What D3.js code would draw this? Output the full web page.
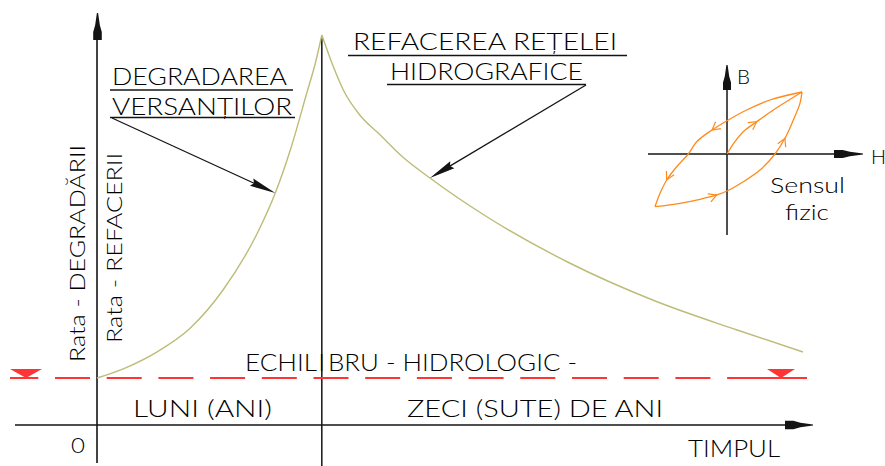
<!DOCTYPE html>
<html><head><meta charset="utf-8">
<script src="https://cdn.jsdelivr.net/npm/d3@7"></script>
<style>
html,body{margin:0;padding:0;background:#fff;}
svg{display:block;}
text{font-family:"Lato","Liberation Sans",Arial,sans-serif;font-weight:300;fill:#000;}
</style></head><body>
<svg id="c" width="885" height="466"></svg>
<script>
// ---------- data ----------
const riseTime = [0, 4, 8.4, 13, 17.6, 22.4, 24.9, 27, 29.3, 30.5, 31.4];
const riseRate = [11.75, 14.3, 18.3, 24.2, 33.75, 48, 58, 68.75, 83, 90.5, 97.5];
const fallTime = [31.4, 33.0, 34.4, 36.7, 39.5, 42.7, 46.5, 54.5, 66, 77.6, 89.4, 98.6];
const fallRate = [97.5, 89.6, 83.75, 77.5, 72.6, 67, 61.75, 52, 40.5, 31.25, 23.75, 18.25];
const equilibriumRate = 11.75;
const peakTime = 31.4;

// hysteresis inset (H, B)
const upperH = [1.0, 0.573, 0.262, 0, -0.2, -0.404, -0.516, -0.671, -0.804, -0.893, -0.96];
const upperB = [1.0, 0.871, 0.710, 0.537, 0.387, 0.198, 0, -0.205, -0.419, -0.634, -0.85];
const lowerH = [-0.96, -0.627, -0.36, -0.137, 0, 0.217, 0.44, 0.64, 0.773, 0.884, 0.973, 1.0];
const lowerB = [-0.85, -0.795, -0.731, -0.661, -0.597, -0.447, -0.258, 0, 0.253, 0.548, 0.817, 1.0];
const initH = [0, 0.089, 0.217, 0.396, 0.618, 1.0];
const initB = [0, 0.172, 0.360, 0.521, 0.710, 1.0];

const yLabels = ["Rata - DEGRADĂRII", "Rata - REFACERII"];
const degradLabel = ["DEGRADAREA", "VERSANȚILOR"];
const refacLabel = ["REFACEREA REȚELEI", "HIDROGRAFICE"];
const periodLabels = ["LUNI (ANI)", "ZECI (SUTE) DE ANI"];
const equilLabel = ["ECHIL", "I", "BRU - HIDROLOGIC -"];
const originLabel = "0";
const xLabel = "TIMPUL";
const insetLabels = ["B", "H", "Sensul", "fizic"];

// ---------- setup ----------
const svg = d3.select("#c");
const x = d3.scaleLinear().domain([0, 100]).range([97, 813]);
const y = d3.scaleLinear().domain([0, 100]).range([425, 25]);
const ink = "#141414";
const curveCol = "#bdbc78";
const red = "#ff3434";
const orange = "#ff8a1c";

function txt(s, px, py, size, len, extra, adj) {
  const t = svg.append("text").attr("x", px).attr("y", py).attr("font-size", size).text(s);
  if (len) t.attr("textLength", len).attr("lengthAdjust", adj || "spacingAndGlyphs");
  if (extra) t.attr("transform", extra);
  return t;
}
function poly(pts, fill) {
  svg.append("path").attr("d", "M" + pts.map(p => p.join(",")).join("L") + "Z").attr("fill", fill);
}
function axisArrow(tx, ty, dx, dy, len, hw) {
  const nx = -dy, ny = dx;
  const p = (a, b) => [tx - dx * a + nx * b, ty - dy * a + ny * b];
  poly([p(0, 0.6), p(len * 0.45, hw * 0.55), p(len * 0.7, hw), p(len, hw), p(len, -hw), p(len * 0.7, -hw), p(len * 0.45, -hw * 0.55), p(0, -0.6)], ink);
}
function leader(x1, y1, x2, y2) {
  const L = Math.hypot(x2 - x1, y2 - y1), dx = (x2 - x1) / L, dy = (y2 - y1) / L;
  svg.append("line").attr("x1", x1).attr("y1", y1).attr("x2", x2 - dx * 10).attr("y2", y2 - dy * 10)
    .attr("stroke", ink).attr("stroke-width", 1.3);
  const nx = -dy, ny = dx, len = 26, hw = 4;
  const p = (a, b) => [x2 - dx * a + nx * b, y2 - dy * a + ny * b];
  poly([p(0, 0), p(len, hw), p(len * 0.9, 0), p(len, -hw)], ink);
}

// ---------- axes ----------
svg.append("line").attr("x1", x(0)).attr("x2", x(0)).attr("y1", y(103) + 6).attr("y2", 463)
  .attr("stroke", ink).attr("stroke-width", 1.6);
axisArrow(x(0) + 0.5, y(103), 0, -1, 27, 4.3);
svg.append("line").attr("x1", 15).attr("x2", x(100) - 6).attr("y1", y(0)).attr("y2", y(0))
  .attr("stroke", ink).attr("stroke-width", 1.6);
axisArrow(x(100), y(0), 1, 0, 28, 4.3);
svg.append("line").attr("x1", x(peakTime)).attr("x2", x(peakTime)).attr("y1", y(96.8)).attr("y2", 466)
  .attr("stroke", ink).attr("stroke-width", 1.5);

// equilibrium line
const ey = y(equilibriumRate);
svg.append("line").attr("x1", 3.3).attr("x2", 807).attr("y1", ey).attr("y2", ey)
  .attr("stroke", red).attr("stroke-width", 2).attr("stroke-dasharray", "35 16.7");
svg.append("rect").attr("x", 0).attr("y", ey - 3).attr("width", 10).attr("height", 6).attr("fill", "#fff");
poly([[10, ey - 9], [42, ey - 9], [26, ey]], red);
poly([[767, ey - 9], [795, ey - 9], [781, ey]], red);
svg.append("line").attr("x1", 762).attr("x2", 807).attr("y1", ey).attr("y2", ey).attr("stroke", red).attr("stroke-width", 2);

// ---------- curve ----------
const line = d3.line().x(d => x(d[0])).y(d => y(d[1])).curve(d3.curveMonotoneX);
const rise = riseTime.map((t, i) => [t, riseRate[i]]);
const fall = fallTime.map((t, i) => [t, fallRate[i]]);
svg.append("path").attr("d", line(rise)).attr("fill", "none").attr("stroke", curveCol).attr("stroke-width", 1.4);
svg.append("path").attr("d", line(fall)).attr("fill", "none").attr("stroke", curveCol).attr("stroke-width", 1.4);

// ---------- annotations ----------
txt(degradLabel[0], 112, 85, 23.5, 175);
txt(degradLabel[1], 112, 115, 23.5, 180);
svg.append("line").attr("x1", 110).attr("x2", 293).attr("y1", 90).attr("y2", 90).attr("stroke", ink).attr("stroke-width", 1.4);
svg.append("line").attr("x1", 110).attr("x2", 295).attr("y1", 117.5).attr("y2", 117.5).attr("stroke", ink).attr("stroke-width", 1.4);
leader(112, 118, x(rise[6][0]), y(rise[6][1]));

txt(refacLabel[0], 353, 50, 23.5, 264);
txt(refacLabel[1], 390, 80, 23.5, 193);
svg.append("line").attr("x1", 348).attr("x2", 627).attr("y1", 55.5).attr("y2", 55.5).attr("stroke", ink).attr("stroke-width", 1.4);
svg.append("line").attr("x1", 387).attr("x2", 586).attr("y1", 84.5).attr("y2", 84.5).attr("stroke", ink).attr("stroke-width", 1.4);
leader(586, 85, x(fall[6][0]), y(fall[6][1]));

// axis labels
txt(yLabels[0], 85, 362, 21.5, 217, "rotate(-90,85,362)");
txt(yLabels[1], 122, 343, 21.5, 190, "rotate(-90,122,343)");
txt(originLabel, 71, 453, 21.5, 14);
txt(xLabel, 688, 457, 23.5, 92);
txt(periodLabels[0], 133, 417, 23.5, 139);
txt(periodLabels[1], 407, 417, 23.5, 256);
txt(equilLabel[0], 245, 371, 23.5, 72);
txt(equilLabel[1], x(peakTime) - 3.2, 371, 23.5);
txt(equilLabel[2], 328, 371, 23.5, 249);

// ---------- inset ----------
const hx = d3.scaleLinear().domain([0, 1]).range([727, 802]);
const by = d3.scaleLinear().domain([0, 1]).range([154, 92]);
svg.append("line").attr("x1", hx(0)).attr("x2", hx(0)).attr("y1", 72).attr("y2", 235).attr("stroke", ink).attr("stroke-width", 1.5);
axisArrow(hx(0), 65, 0, -1, 25, 4);
svg.append("line").attr("x1", 648).attr("x2", 857).attr("y1", by(0)).attr("y2", by(0)).attr("stroke", ink).attr("stroke-width", 1.5);
axisArrow(863, by(0), 1, 0, 29, 4);
txt(insetLabels[0], 737, 83.5, 19.5, 13);
txt(insetLabels[1], 871, 163.5, 19.5, 15);
txt(insetLabels[2], 770, 193, 21, 75);
txt(insetLabels[3], 785, 220, 21, 44);

const iline = d3.line().x(d => hx(d[0])).y(d => by(d[1])).curve(d3.curveCatmullRom.alpha(0.5));
const branches = [
  upperH.map((h, i) => [h, upperB[i]]),
  lowerH.map((h, i) => [h, lowerB[i]]),
  initH.map((h, i) => [h, initB[i]])
];
branches.forEach(b => svg.append("path").attr("d", iline(b)).attr("fill", "none").attr("stroke", orange).attr("stroke-width", 1.3));
const marks = [[0, 4], [0, 8], [1, 3], [1, 8], [2, 3]];
marks.forEach(([bi, i]) => {
  const a = branches[bi][i], b = branches[bi][i + 1];
  const px = hx(a[0]), py = by(a[1]);
  const ang = Math.atan2(by(b[1]) - py, hx(b[0]) - px);
  const L = 9, s = 0.5;
  const p1 = [px - L * Math.cos(ang - s), py - L * Math.sin(ang - s)];
  const p2 = [px - L * Math.cos(ang + s), py - L * Math.sin(ang + s)];
  svg.append("path").attr("d", `M${p1}L${px},${py}L${p2}`).attr("fill", "none").attr("stroke", orange).attr("stroke-width", 1.2);
});
</script>
</body></html>
